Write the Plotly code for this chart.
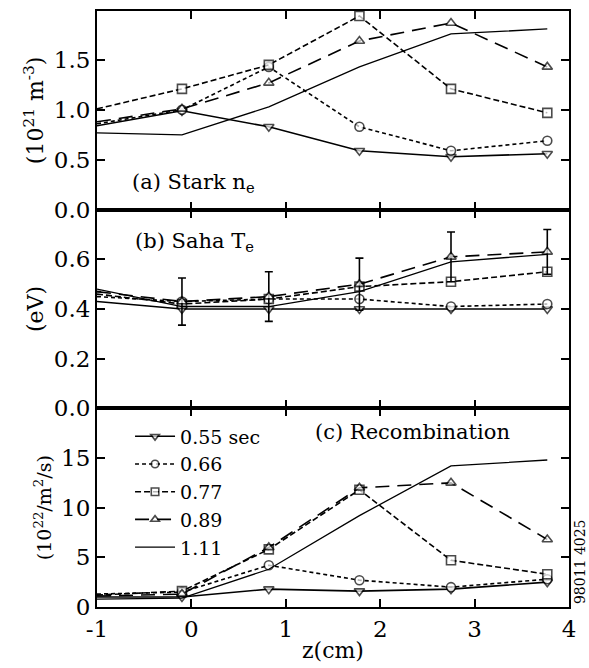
import plotly.graph_objects as go
from plotly.subplots import make_subplots

# ---------------- data ----------------
z = [-1.0, -0.1, 0.82, 1.78, 2.75, 3.77]
series_names = ["0.55 sec", "0.66", "0.77", "0.89", "1.11"]

ne_055 = [0.84, 0.99, 0.83, 0.59, 0.53, 0.56]
ne_066 = [0.86, 1.00, 1.43, 0.83, 0.59, 0.69]
ne_077 = [1.01, 1.21, 1.45, 1.94, 1.21, 0.97]
ne_089 = [0.88, 1.01, 1.27, 1.69, 1.87, 1.43]
ne_111 = [0.77, 0.75, 1.03, 1.43, 1.76, 1.81]

te_055 = [0.43, 0.40, 0.40, 0.40, 0.40, 0.40]
te_066 = [0.45, 0.43, 0.44, 0.44, 0.41, 0.42]
te_077 = [0.46, 0.42, 0.44, 0.49, 0.51, 0.55]
te_089 = [0.47, 0.43, 0.45, 0.50, 0.61, 0.63]
te_111 = [0.48, 0.41, 0.41, 0.47, 0.59, 0.62]
te_err_089 = [0.0, 0.095, 0.10, 0.105, 0.10, 0.09]

rc_055 = [1.0, 1.0, 1.8, 1.6, 1.8, 2.5]
rc_066 = [1.3, 1.5, 4.2, 2.7, 2.0, 2.8]
rc_077 = [1.2, 1.6, 5.8, 11.8, 4.7, 3.3]
rc_089 = [1.1, 1.3, 6.0, 12.0, 12.5, 6.8]
rc_111 = [0.8, 0.9, 3.8, 9.2, 14.2, 14.8]

x_ticks = [-1, 0, 1, 2, 3, 4]
x_ticktext = ["-1", "0", "1", "2", "3", "4"]
ne_ticks = [0.0, 0.5, 1.0, 1.5]
te_ticks = [0.0, 0.2, 0.4, 0.6]
rc_ticks = [0, 5, 10, 15]

# ---------------- styles ----------------
FONT = "DejaVu Serif"
styles = [
    dict(dash="solid", symbol="triangle-down", mode="lines+markers"),
    dict(dash="4px,3px", symbol="circle", mode="lines+markers"),
    dict(dash="6px,3px", symbol="square", mode="lines+markers"),
    dict(dash="14px,8px", symbol="triangle-up", mode="lines+markers"),
    dict(dash="solid", symbol="circle", mode="lines"),
]
# no marker drawn at the first (edge) point
marker_sizes = [0, 9, 9, 9, 9, 9]

fig = make_subplots(rows=3, cols=1, shared_xaxes=True, vertical_spacing=0)

panels = [
    (1, [ne_055, ne_066, ne_077, ne_089, ne_111]),
    (2, [te_055, te_066, te_077, te_089, te_111]),
    (3, [rc_055, rc_066, rc_077, rc_089, rc_111]),
]

for row, data in panels:
    for i, (name, ys, st) in enumerate(zip(series_names, data, styles)):
        tr = dict(
            x=z, y=ys, name=name, mode=st["mode"],
            line=dict(color="black", width=1.6 if i < 4 else 1.3, dash=st["dash"]),
            marker=dict(symbol=st["symbol"], size=marker_sizes, color="white",
                        line=dict(color="black", width=1.6)),
            showlegend=(row == 3), legendgroup=name,
        )
        if row == 2 and i == 3:
            tr["error_y"] = dict(type="data", array=te_err_089, visible=True,
                                 color="black", thickness=1.6, width=4)
        fig.add_trace(go.Scatter(**tr), row=row, col=1)

axis_common = dict(showline=True, linewidth=2, linecolor="black", mirror="allticks",
                   ticks="inside", ticklen=8, tickwidth=2, tickcolor="black",
                   showgrid=False, zeroline=False,
                   tickfont=dict(family=FONT, size=23, color="black"))

for r in (1, 2, 3):
    fig.update_xaxes(range=[-1, 4], tickvals=x_ticks, ticktext=x_ticktext,
                     **axis_common, row=r, col=1)

fig.update_xaxes(title=dict(text="z(cm)", font=dict(family=FONT, size=22, color="black"),
                            standoff=2), row=3, col=1)

fig.update_yaxes(range=[0, 1.99], tickvals=ne_ticks, tickformat=".1f", **axis_common,
                 title=dict(text="(10<sup>21</sup> m<sup>-3</sup>)",
                            font=dict(family=FONT, size=22, color="black"), standoff=4),
                 row=1, col=1)
fig.update_yaxes(range=[0, 0.8], tickvals=te_ticks, tickformat=".1f", **axis_common,
                 title=dict(text="(eV)", font=dict(family=FONT, size=22, color="black"),
                            standoff=4),
                 row=2, col=1)
fig.update_yaxes(range=[0, 20], tickvals=rc_ticks, **axis_common,
                 title=dict(text="(10<sup>22</sup>/m<sup>2</sup>/s)",
                            font=dict(family=FONT, size=19, color="black"), standoff=4),
                 row=3, col=1)

ann_font = dict(family=FONT, size=21, color="black")
fig.add_annotation(x=-0.65, y=0.27, xref="x", yref="y", xanchor="left", yanchor="middle",
                   text="(a) Stark n<sub>e</sub>", showarrow=False, font=ann_font)
fig.add_annotation(x=-0.62, y=0.67, xref="x2", yref="y2", xanchor="left", yanchor="middle",
                   text="(b) Saha T<sub>e</sub>", showarrow=False, font=ann_font)
fig.add_annotation(x=1.29, y=17.6, xref="x3", yref="y3", xanchor="left", yanchor="middle",
                   text="(c) Recombination", showarrow=False, font=ann_font)
fig.add_annotation(x=1.022, y=0.076, xref="paper", yref="paper", xanchor="center",
                   yanchor="middle", text="98011 4025", textangle=-90, showarrow=False,
                   font=dict(family=FONT, size=14, color="black"))

fig.update_layout(
    width=589, height=668,
    margin=dict(l=97, r=20, t=9, b=57),
    paper_bgcolor="white", plot_bgcolor="white",
    showlegend=True,
    legend=dict(x=0.07, y=0.318, xanchor="left", yanchor="top",
                bgcolor="rgba(0,0,0,0)", tracegroupgap=0, itemwidth=40,
                font=dict(family=FONT, size=19, color="black")),
)

fig.write_html("out.html")
